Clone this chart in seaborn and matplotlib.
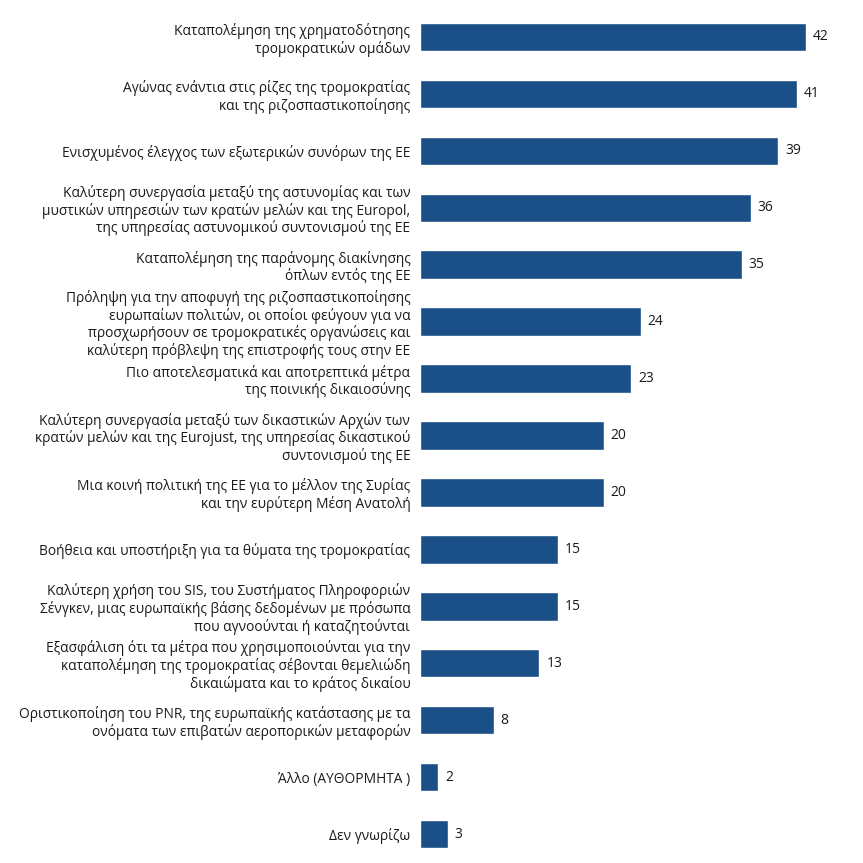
import matplotlib
matplotlib.use("Agg")
import matplotlib.pyplot as plt
import seaborn as sns
import pandas as pd

categories = [
    "Καταπολέμηση της χρηματοδότησης\nτρομοκρατικών ομάδων",
    "Αγώνας ενάντια στις ρίζες της τρομοκρατίας\nκαι της ριζοσπαστικοποίησης",
    "Ενισχυμένος έλεγχος των εξωτερικών συνόρων της ΕΕ",
    "Καλύτερη συνεργασία μεταξύ της αστυνομίας και των\nμυστικών υπηρεσιών των κρατών μελών και της Europol,\nτης υπηρεσίας αστυνομικού συντονισμού της ΕΕ",
    "Καταπολέμηση της παράνομης διακίνησης\nόπλων εντός της ΕΕ",
    "Πρόληψη για την αποφυγή της ριζοσπαστικοποίησης\nευρωπαίων πολιτών, οι οποίοι φεύγουν για να\nπροσχωρήσουν σε τρομοκρατικές οργανώσεις και\nκαλύτερη πρόβλεψη της επιστροφής τους στην ΕΕ",
    "Πιο αποτελεσματικά και αποτρεπτικά μέτρα\nτης ποινικής δικαιοσύνης",
    "Καλύτερη συνεργασία μεταξύ των δικαστικών Αρχών των\nκρατών μελών και της Eurojust, της υπηρεσίας δικαστικού\nσυντονισμού της ΕΕ",
    "Μια κοινή πολιτική της ΕΕ για το μέλλον της Συρίας\nκαι την ευρύτερη Μέση Ανατολή",
    "Βοήθεια και υποστήριξη για τα θύματα της τρομοκρατίας",
    "Καλύτερη χρήση του SIS, του Συστήματος Πληροφοριών\nΣένγκεν, μιας ευρωπαϊκής βάσης δεδομένων με πρόσωπα\nπου αγνοούνται ή καταζητούνται",
    "Εξασφάλιση ότι τα μέτρα που χρησιμοποιούνται για την\nκαταπολέμηση της τρομοκρατίας σέβονται θεμελιώδη\nδικαιώματα και το κράτος δικαίου",
    "Οριστικοποίηση του PNR, της ευρωπαϊκής κατάστασης με τα\nονόματα των επιβατών αεροπορικών μεταφορών",
    "Άλλο (ΑΥΘΟΡΜΗΤΑ )",
    "Δεν γνωρίζω",
]
values = [42, 41, 39, 36, 35, 24, 23, 20, 20, 15, 15, 13, 8, 2, 3]

df = pd.DataFrame({"cat": categories, "val": values})

sns.set_theme(style="white")
plt.rcParams["font.family"] = ["Open Sans", "DejaVu Sans"]

fig = plt.figure(figsize=(8.63, 8.63), dpi=100)
ax = fig.add_axes([420 / 863, 0.5 / 863, 432 / 863, 854 / 863])
sns.barplot(data=df, x="val", y="cat", color="#1a4f87", saturation=1,
            width=0.5, ax=ax, orient="h")
ax.set_xlim(0, 47)
ax.set_ylim(14.5, -0.5)
ax.set_xlabel("")
ax.set_ylabel("")
ax.set_xticks([])
for s in ax.spines.values():
    s.set_visible(False)
ax.tick_params(axis="y", length=0, pad=7)
for lbl in ax.get_yticklabels():
    lbl.set_fontsize(9.9)
    lbl.set_color("#1a1a1a")
    lbl.set_linespacing(1.15)
    lbl.set_horizontalalignment("right")
    lbl.set_multialignment("right")

for c in ax.containers:
    ax.bar_label(c, fmt="%d", padding=5, fontsize=10, color="#1a1a1a")

fig.savefig("out.png", dpi=100)
